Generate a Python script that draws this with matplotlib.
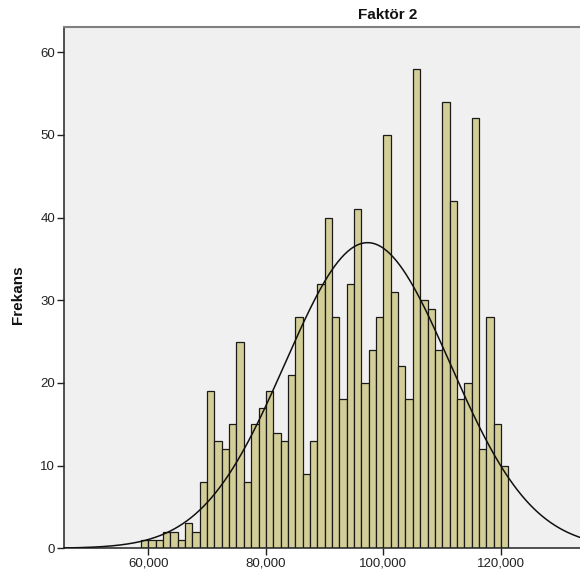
import matplotlib
matplotlib.use("Agg")
import matplotlib.pyplot as plt
import matplotlib.ticker as mticker
import numpy as np

plt.rcParams['font.family'] = ['Liberation Sans', 'DejaVu Sans']

# histogram data (bin width 1250, first bin starts at 58750)
bin_start = 58750
bin_width = 1250
frekans = [1, 1, 1, 2, 2, 1, 3, 2, 8, 19,
           13, 12, 15, 25, 8, 15, 17, 19, 14, 13,
           21, 28, 9, 13, 32, 40, 28, 18, 32, 41,
           20, 24, 28, 50, 31, 22, 18, 58, 30, 29,
           24, 54, 42, 18, 20, 52, 12, 28, 15, 10]

# normal curve parameters
ortalama = 97300
std_sapma = 14000

x_ticks = [60000, 80000, 100000, 120000]
y_ticks = [0, 10, 20, 30, 40, 50, 60]

n = sum(frekans)
kenarlar = bin_start + bin_width * np.arange(len(frekans))

fig = plt.figure(figsize=(5.8, 5.82), dpi=100)
ax = fig.add_axes([64 / 580, 1 - 548.3 / 582, 1 - 64 / 580, (548.3 - 27) / 582])
ax.set_facecolor('#F0F0F0')

ax.bar(kenarlar, frekans, width=bin_width, align='edge',
       color='#D3CE97', edgecolor='#1a1a1a', linewidth=0.9, zorder=2)

xs = np.linspace(45000, 134000, 500)
ys = n * bin_width / (std_sapma * np.sqrt(2 * np.pi)) * np.exp(-0.5 * ((xs - ortalama) / std_sapma) ** 2)
ax.plot(xs, ys, color='#111111', linewidth=1.1, zorder=3)

ax.set_xlim(45660, 133440)
ax.set_ylim(0, 63.06)
ax.set_xticks(x_ticks)
ax.set_yticks(y_ticks)
ax.xaxis.set_major_formatter(mticker.FuncFormatter(lambda v, p: f"{v:,.0f}"))
ax.tick_params(axis='both', direction='out', length=5, width=1, labelsize=9.5,
               labelcolor='#222222', color='#222222', pad=1.5)

for s in ['left', 'bottom']:
    ax.spines[s].set_color('#222222')
    ax.spines[s].set_linewidth(1.1)
ax.spines['right'].set_visible(False)
ax.spines['top'].set_color('#808080')
ax.spines['top'].set_linewidth(1.5)

fig.text(388 / 580, 1 - 15 / 582, "Faktör 2", ha='center', va='center',
         fontsize=11, fontweight='bold', color='#111111')
fig.text(18 / 580, 1 - 295 / 582, "Frekans", ha='center', va='center',
         rotation=90, fontsize=11, fontweight='bold', color='#111111')

fig.savefig('out.png', dpi=100)
